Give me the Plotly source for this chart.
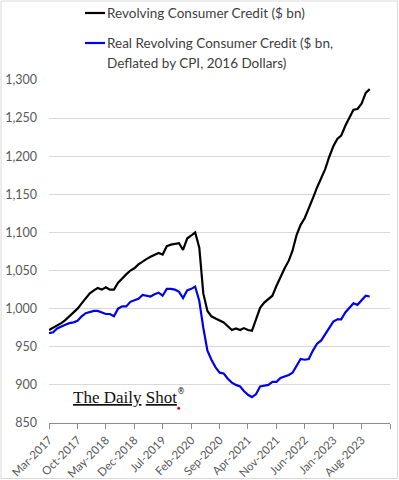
import pandas as pd
import plotly.graph_objects as go

dates = pd.date_range("2017-03-01", periods=80, freq="MS")

nominal = [972, 975, 978, 981, 985, 990, 996, 1000, 1007, 1014,
           1020, 1024, 1027, 1025, 1028, 1025, 1025, 1034, 1040, 1045,
           1050, 1053, 1058, 1062, 1065, 1068, 1070, 1073, 1071, 1082,
           1084, 1085, 1086, 1077, 1092, 1096, 1100, 1080, 1020, 997,
           990, 987, 984, 982, 977, 972, 974, 972, 974.5, 972,
           971, 985, 1001, 1008, 1012, 1017, 1030, 1042, 1053, 1063,
           1076, 1097, 1110, 1119, 1131, 1145, 1159, 1170, 1183, 1199,
           1213, 1223, 1227, 1240, 1251, 1261, 1262, 1269, 1283, 1288]

real = [968, 969, 974, 977, 979, 981, 982, 984, 990, 994,
        996, 997, 997, 995, 993, 993, 990, 1000, 1003, 1003,
        1009, 1011, 1013, 1018, 1017, 1016, 1019, 1021, 1017, 1026,
        1026, 1025, 1022, 1014, 1024, 1026, 1029, 1010, 975, 945,
        933, 923, 916, 915, 908, 903, 900, 898, 892, 887,
        884, 888, 898, 899, 900, 904, 904, 909, 911, 913,
        916, 926, 934, 933, 934, 945, 954, 958, 966, 974,
        983, 986, 986, 995, 1001, 1007, 1005, 1011, 1017, 1016]

legend_lines = [["Revolving Consumer Credit ($ bn)"],
                ["Real Revolving Consumer Credit ($ bn,",
                 "Deflated by CPI, 2016 Dollars)"]]
series_colors = ["#000000", "#0000ee"]

tick_dates = pd.date_range("2017-03-01", periods=13, freq="7MS")
tick_labels = [d.strftime("%b-%Y") for d in tick_dates[:-1]] + [""]
y_ticks = [850, 900, 950, 1000, 1050, 1100, 1150, 1200, 1250, 1300]

FONT = "Lato"
W, H = 399, 480
ML, MR, MT, MB = 49, 9, 80, 57
PW, PH = W - ML - MR, H - MT - MB


def px(x):
    return (x - ML) / PW


def py(y):
    return (H - MB - y) / PH


fig = go.Figure()
for vals, names, col in zip([nominal, real], legend_lines, series_colors):
    fig.add_trace(go.Scatter(x=dates, y=vals, mode="lines", name=" ".join(names),
                             line=dict(color=col, width=2.2), showlegend=False))

fig.update_layout(
    width=W, height=H,
    margin=dict(l=ML, r=MR, t=MT, b=MB),
    paper_bgcolor="white", plot_bgcolor="white",
    font=dict(family=FONT, size=13, color="#595959"),
    showlegend=False,
    xaxis=dict(range=[tick_dates[0], tick_dates[-1]], automargin=False,
               tickmode="array", tickvals=tick_dates, ticktext=tick_labels,
               tickangle=-45, showgrid=False, showline=True,
               linecolor="#8c8c8c", linewidth=1,
               ticks="outside", ticklen=5, tickcolor="#8c8c8c",
               tickfont=dict(family=FONT, size=11.5, color="#595959"),
               zeroline=False),
    yaxis=dict(range=[850, 1300], tickmode="array", tickvals=y_ticks,
               automargin=False,
               tickformat=",", showgrid=True, gridcolor="#d9d9d9",
               gridwidth=1, showline=False, zeroline=False, ticks="",
               ticklabelstandoff=11,
               tickfont=dict(family=FONT, size=12.5, color="#595959")),
)

# legend keys
legend_y = [13, 43]
for (lines, col, ly) in zip(legend_lines, series_colors, legend_y):
    fig.add_shape(type="line", xref="paper", yref="paper",
                  x0=px(85), x1=px(105), y0=py(ly), y1=py(ly),
                  line=dict(color=col, width=2.2))
    for k, t in enumerate(lines):
        fig.add_annotation(xref="paper", yref="paper", x=px(105), y=py(ly + 20 * k),
                           xanchor="left", yanchor="middle", showarrow=False,
                           text=t, font=dict(family=FONT, size=13.5, color="#404040"))

# logo
fig.add_annotation(xref="paper", yref="paper", x=px(71), y=py(397),
                   xanchor="left", yanchor="middle", showarrow=False,
                   text="<u>The Daily</u> <u>Shot</u>",
                   font=dict(family="Liberation Serif", size=17, color="#111111"))
fig.add_annotation(xref="paper", yref="paper", x=px(181), y=py(391),
                   xanchor="center", yanchor="middle", showarrow=False,
                   text="®", font=dict(family="DejaVu Sans", size=8, color="#111111"))
fig.add_annotation(xref="paper", yref="paper", x=px(179), y=py(407),
                   xanchor="center", yanchor="middle", showarrow=False,
                   text="●", font=dict(size=6, color="#d0021b"))

# outer frame
fig.add_shape(type="rect", xref="paper", yref="paper",
              x0=px(1), x1=px(W - 1.5), y0=py(H - 1.5), y1=py(1),
              line=dict(color="#d9d9d9", width=1), fillcolor="rgba(0,0,0,0)")

fig.write_html("out.html", config={"displayModeBar": False},
               post_script="document.body.style.margin='0px';document.body.style.overflow='hidden';")
